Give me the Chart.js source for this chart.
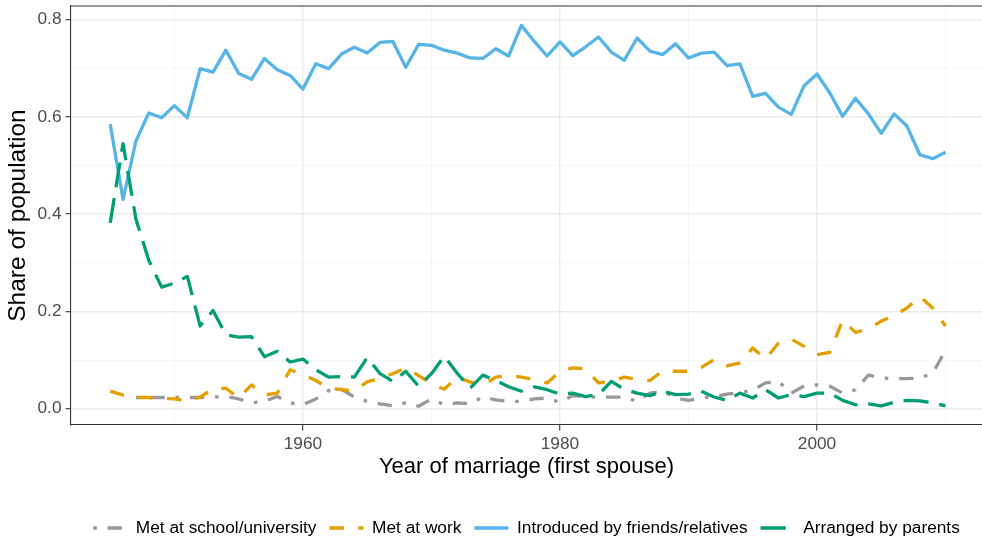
<!DOCTYPE html>
<html>
<head>
<meta charset="utf-8">
<script src="https://cdn.jsdelivr.net/npm/chart.js@4.4.1/dist/chart.umd.min.js"></script>
<style>
  html, body { margin: 0; padding: 0; background: #fff; }
  #wrap { width: 982px; height: 542px; }
</style>
</head>
<body>
<div id="wrap"><canvas id="marriageChart" width="982" height="542"></canvas></div>
<script>
// years of marriage (x values)
const years = [1945, 1946, 1947, 1948, 1949, 1950, 1951, 1952, 1953, 1954,
  1955, 1956, 1957, 1958, 1959, 1960, 1961, 1962, 1963, 1964,
  1965, 1966, 1967, 1968, 1969, 1970, 1971, 1972, 1973, 1974,
  1975, 1976, 1977, 1978, 1979, 1980, 1981, 1982, 1983, 1984,
  1985, 1986, 1987, 1988, 1989, 1990, 1991, 1992, 1993, 1994,
  1995, 1996, 1997, 1998, 1999, 2000, 2001, 2002, 2003, 2004,
  2005, 2006, 2007, 2008, 2009, 2010];

// share of population
const school = [null, null, 0.023, 0.023, 0.023, 0.023, 0.023, 0.023, 0.024, 0.025,
  0.020, 0.012, 0.015, 0.025, 0.012, 0.008, 0.020, 0.037, 0.040, 0.024,
  0.015, 0.010, 0.006, 0.012, 0.005, 0.020, 0.008, 0.012, 0.010, 0.024,
  0.018, 0.015, 0.015, 0.020, 0.022, 0.013, 0.027, 0.024, 0.024, 0.024,
  0.024, 0.015, 0.032, 0.036, 0.022, 0.017, 0.022, 0.025, 0.030, 0.033,
  0.038, 0.053, 0.056, 0.032, 0.047, 0.049, 0.046, 0.032, 0.039, 0.069,
  0.063, 0.062, 0.062, 0.063, 0.073, 0.120];

const work = [0.036, 0.028, 0.023, 0.023, 0.021, 0.020, 0.016, 0.024, 0.041, 0.042,
  0.022, 0.049, 0.028, 0.032, 0.080, 0.070, 0.058, 0.042, 0.039, 0.037,
  0.055, 0.063, 0.072, 0.084, 0.068, 0.051, 0.040, 0.065, 0.055, 0.047,
  0.065, 0.068, 0.065, 0.060, 0.053, 0.077, 0.084, 0.082, 0.053, 0.056,
  0.065, 0.060, 0.058, 0.078, 0.077, 0.077, 0.085, 0.101, 0.088, 0.094,
  0.125, 0.102, 0.135, 0.143, 0.128, 0.111, 0.116, 0.182, 0.157, 0.164,
  0.180, 0.191, 0.207, 0.231, 0.207, 0.170];

const friends = [0.585, 0.430, 0.550, 0.608, 0.598, 0.623, 0.598, 0.699, 0.692, 0.737,
  0.689, 0.677, 0.720, 0.697, 0.685, 0.657, 0.709, 0.699, 0.729, 0.743,
  0.731, 0.753, 0.755, 0.702, 0.749, 0.747, 0.737, 0.731, 0.721, 0.720,
  0.740, 0.725, 0.788, 0.755, 0.725, 0.754, 0.726, 0.744, 0.764, 0.733,
  0.716, 0.762, 0.735, 0.728, 0.750, 0.721, 0.731, 0.733, 0.705, 0.709,
  0.642, 0.648, 0.620, 0.605, 0.664, 0.688, 0.649, 0.601, 0.638, 0.606,
  0.566, 0.606, 0.581, 0.522, 0.514, 0.527];

const parents = [0.382, 0.545, 0.390, 0.305, 0.250, 0.258, 0.272, 0.170, 0.202, 0.152,
  0.147, 0.148, 0.107, 0.118, 0.096, 0.102, 0.080, 0.065, 0.066, 0.065,
  0.105, 0.072, 0.056, 0.077, 0.046, 0.072, 0.108, 0.073, 0.042, 0.069,
  0.058, 0.045, 0.036, 0.045, 0.039, 0.030, 0.032, 0.025, 0.029, 0.056,
  0.040, 0.032, 0.027, 0.036, 0.029, 0.030, 0.036, 0.024, 0.017, 0.032,
  0.022, 0.039, 0.022, 0.029, 0.025, 0.032, 0.032, 0.017, 0.008, 0.010,
  0.006, 0.013, 0.017, 0.016, 0.012, 0.006];

// axis ticks
const xTicks = [1950, 1960, 1970, 1980, 1990, 2000, 2010];
const xMajor = [1960, 1980, 2000];
const yTicks = [0, 0.1, 0.2, 0.3, 0.4, 0.5, 0.6, 0.7, 0.8];

const FONT = "'Liberation Sans', Arial, sans-serif";
Chart.defaults.font.family = FONT;

function toPoints(vals) {
  return years.map((yr, i) => ({ x: yr, y: vals[i] }));
}

function isMajorY(v) {
  return Math.round(v * 10) % 2 === 0;
}

// top edge of the panel border (right edge is cropped in the original)
const panelFrame = {
  id: "panelFrame",
  afterDatasetsDraw(chart) {
    const { ctx, chartArea } = chart;
    ctx.save();
    ctx.strokeStyle = "#333333";
    ctx.lineWidth = 1.1;
    ctx.beginPath();
    ctx.moveTo(chartArea.left, chartArea.top);
    ctx.lineTo(chartArea.right, chartArea.top);
    ctx.stroke();
    ctx.restore();
  },
};

const lineBase = {
  borderWidth: 3.3,
  pointRadius: 0,
  pointHoverRadius: 0,
  tension: 0,
  fill: false,
  spanGaps: false,
  borderJoinStyle: "round",
  borderCapStyle: "butt",
};

// legend keys use the dataset's own dash pattern
function legendLabels(chart) {
  const items = Chart.defaults.plugins.legend.labels.generateLabels(chart);
  items.forEach((item) => {
    const ds = chart.data.datasets[item.datasetIndex];
    item.lineDash = ds.borderDash || [];
    item.lineDashOffset = 0;
    item.lineWidth = ds.borderWidth;
    item.strokeStyle = ds.borderColor;
    item.lineCap = "butt";
  });
  return items;
}

const ctx = document.getElementById("marriageChart").getContext("2d");
const chart = new Chart(ctx, {
  type: "line",
  data: {
    datasets: [
      {
        ...lineBase,
        label: "Met at school/university",
        data: toPoints(school),
        borderColor: "#999999",
        backgroundColor: "#999999",
        borderDash: [3.6, 10.8, 14.4, 10.8],
        order: 4,
      },
      {
        ...lineBase,
        label: "Met at work",
        data: toPoints(work),
        borderColor: "#E69F00",
        backgroundColor: "#E69F00",
        borderDash: [14.4, 14.4],
        order: 3,
      },
      {
        ...lineBase,
        label: "Introduced by friends/relatives",
        data: toPoints(friends),
        borderColor: "#56B4E9",
        backgroundColor: "#56B4E9",
        order: 2,
      },
      {
        ...lineBase,
        label: "Arranged by parents",
        data: toPoints(parents),
        borderColor: "#009E73",
        backgroundColor: "#009E73",
        borderDash: [25.2, 10.8],
        order: 1,
      },
    ],
  },
  options: {
    responsive: false,
    animation: false,
    devicePixelRatio: 1,
    layout: { padding: { top: 6, left: 0, right: 0, bottom: -4.65 } },
    plugins: {
      tooltip: { enabled: false },
      legend: {
        position: "bottom",
        fullSize: false,
        labels: {
          usePointStyle: true,
          pointStyle: "line",
          pointStyleWidth: 34,
          padding: 13,
          color: "#000000",
          font: { family: FONT, size: 17.3 },
          generateLabels: legendLabels,
          sort: (a, b) => a.datasetIndex - b.datasetIndex,
        },
      },
    },
    scales: {
      x: {
        type: "linear",
        min: 1941.95,
        max: 2012.84,
        afterBuildTicks: (scale) => {
          scale.ticks = xTicks.map((v) => ({ value: v }));
        },
        afterFit: (scale) => {
          scale.height = 81.35;
          scale.paddingLeft = 0;
          scale.paddingRight = 0;
        },
        grid: {
          color: (c) => (xMajor.includes(c.tick.value) ? "#EBEBEB" : "#F3F3F3"),
          lineWidth: (c) => (xMajor.includes(c.tick.value) ? 1.4 : 0.8),
          tickLength: 5.5,
          tickWidth: 1.1,
          tickColor: (c) => (xMajor.includes(c.tick.value) ? "#333333" : "rgba(0,0,0,0)"),
        },
        border: { color: "#333333", width: 1.1 },
        ticks: {
          autoSkip: false,
          maxRotation: 0,
          padding: 3,
          color: "#4D4D4D",
          font: { family: FONT, size: 17.3 },
          callback: (v) => (xMajor.includes(v) ? String(v) : ""),
        },
        title: {
          display: true,
          text: "Year of marriage (first spouse)",
          color: "#000000",
          font: { family: FONT, size: 22 },
          padding: { top: 0, bottom: 26.15 },
        },
      },
      y: {
        min: -0.0335,
        max: 0.8278,
        afterBuildTicks: (scale) => {
          scale.ticks = yTicks.map((v) => ({ value: v }));
        },
        afterFit: (scale) => {
          scale.width = 71;
          scale.paddingTop = 0;
          scale.paddingBottom = 0;
        },
        grid: {
          color: (c) => (isMajorY(c.tick.value) ? "#EBEBEB" : "#F3F3F3"),
          lineWidth: (c) => (isMajorY(c.tick.value) ? 1.4 : 0.8),
          tickLength: 5.5,
          tickWidth: 1.1,
          tickColor: (c) => (isMajorY(c.tick.value) ? "#333333" : "rgba(0,0,0,0)"),
        },
        border: { color: "#333333", width: 1.1 },
        ticks: {
          autoSkip: false,
          padding: 4,
          color: "#4D4D4D",
          font: { family: FONT, size: 17.3 },
          callback: (v) => (isMajorY(v) ? v.toFixed(1) : ""),
        },
        title: {
          display: true,
          text: "Share of population",
          color: "#000000",
          font: { family: FONT, size: 24.5 },
          padding: { top: 4, bottom: 0 },
        },
      },
    },
  },
  plugins: [panelFrame],
});
</script>
</body>
</html>
